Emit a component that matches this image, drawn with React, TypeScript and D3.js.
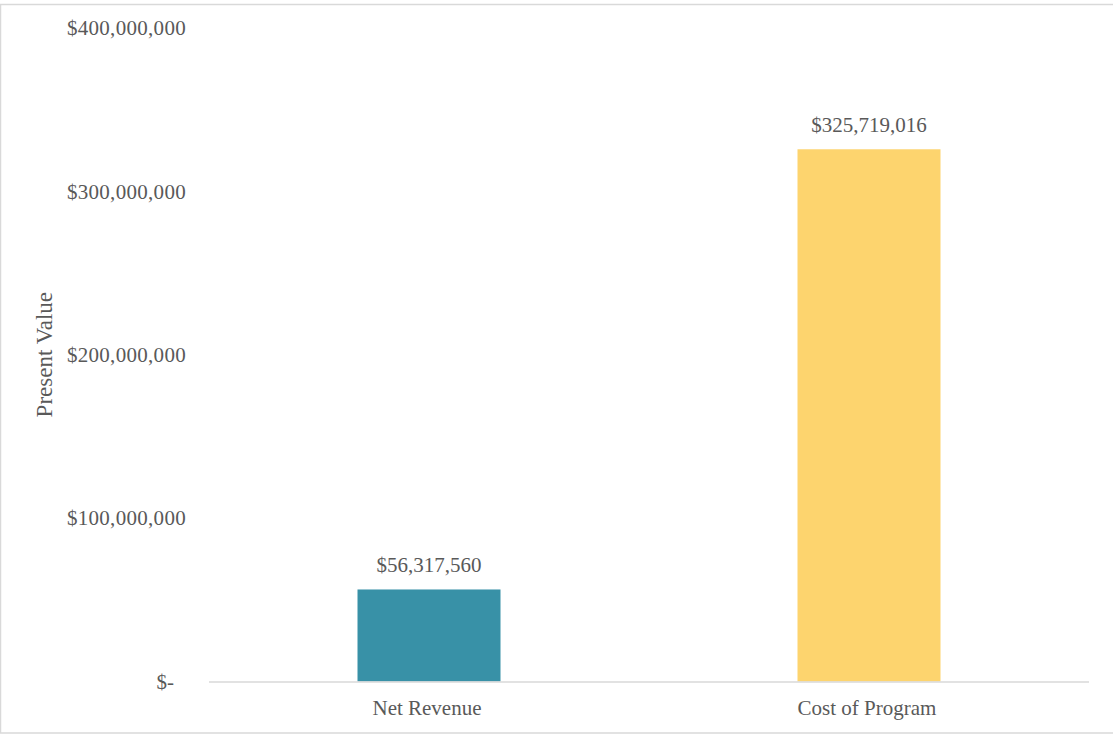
import React from "react";
import * as d3 from "d3";

const categories = ["Net Revenue", "Cost of Program"];
const values = [56317560, 325719016];
const colors = ["#3891A7", "#FDD46E"];
const yTicks = [0, 100000000, 200000000, 300000000, 400000000];
const yTitle = "Present Value";

const W = 1113;
const H = 734;
const FONT = "'Liberation Serif', 'Times New Roman', serif";
const TEXT = "#595959";

const fmtTick = (v: number) => (v === 0 ? "$-" : "$" + d3.format(",")(v));
const fmtLabel = (v: number) => "$" + d3.format(",")(v);

export default function App() {
  const plotLeft = 209;
  const plotRight = 1089;
  const y = d3.scaleLinear().domain([0, 400000000]).range([681.5, 27.9]);
  const x = d3.scaleBand<string>().domain(categories).range([plotLeft, plotRight]).paddingInner(0).paddingOuter(0);
  const bw = 143;

  return (
    <svg
      width={W}
      height={H}
      style={{ position: "absolute", left: 0, top: 0, fontFamily: FONT }}
    >
      <rect x={0} y={0} width={W} height={H} fill="#fff" />
      <rect x={0.5} y={4.5} width={W + 5} height={H - 5.5} fill="none" stroke="#D9D9D9" strokeWidth={1.5} />
      {yTicks.map((t) => (
        <text
          key={t}
          x={t === 0 ? 174 : 186}
          y={y(t)}
          dy="0.35em"
          textAnchor="end"
          fontSize={21}
          letterSpacing={t === 0 ? 0 : 0.3}
          fill={TEXT}
        >
          {fmtTick(t)}
        </text>
      ))}
      <text
        transform={`translate(44, ${(y(0) + y(400000000)) / 2}) rotate(-90)`}
        textAnchor="middle"
        dy="0.35em"
        fontSize={23}
        fill={TEXT}
      >
        {yTitle}
      </text>
      {categories.map((c, i) => {
        const cx = (x(c) as number) + x.bandwidth() / 2;
        return (
          <g key={c}>
            <rect
              x={cx - bw / 2}
              y={y(values[i])}
              width={bw}
              height={y(0) - y(values[i])}
              fill={colors[i]}
            />
            <text
              x={cx}
              y={y(values[i]) - 17}
              textAnchor="middle"
              fontSize={21}
              fill={TEXT}
            >
              {fmtLabel(values[i])}
            </text>
            <text x={cx - 2} y={y(0) + 33} textAnchor="middle" fontSize={21} fill={TEXT}>
              {c}
            </text>
          </g>
        );
      })}
      <line x1={plotLeft} x2={plotRight} y1={y(0) + 0.5} y2={y(0) + 0.5} stroke="#D9D9D9" strokeWidth={1.5} />
    </svg>
  );
}
